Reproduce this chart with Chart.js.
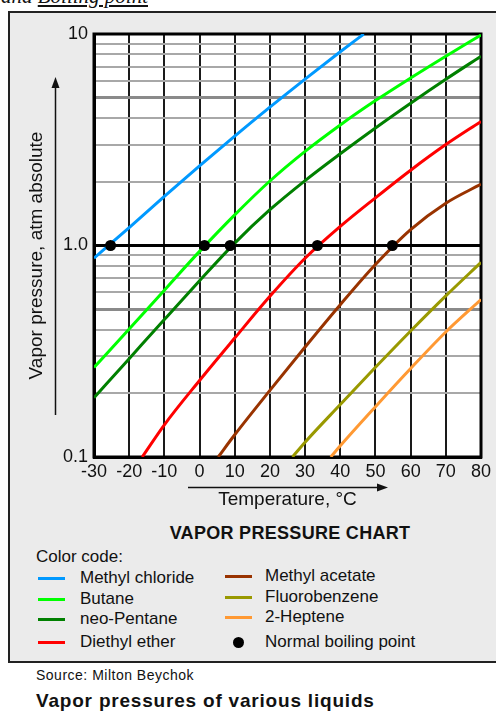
<!DOCTYPE html>
<html>
<head>
<meta charset="utf-8">
<script src="https://cdn.jsdelivr.net/npm/chart.js"></script>
<style>
  html, body { margin: 0; padding: 0; width: 496px; height: 713px; overflow: hidden; background: #fff;
    font-family: Arial, "Liberation Sans", sans-serif; color: #111; }
  #topnote { position: absolute; left: 1px; top: -14px; font: italic 21px/21px "Liberation Serif", "Times New Roman", serif; white-space: nowrap; }
  #panel { position: absolute; left: 8px; top: 11px; width: 500px; height: 652px; background: #ebebeb;
    border: 2px solid #222; box-sizing: border-box; }
  #chartbox { position: absolute; left: 0; top: 0; width: 496px; height: 512px; }
  .t { position: absolute; white-space: nowrap; transform: translateY(-50%); }
  .sw { position: absolute; width: 27px; height: 3px; }
  .dot { position: absolute; width: 11px; height: 11px; border-radius: 50%; background: #000; }
</style>
</head>
<body>
<div id="topnote">and <u>Boiling point</u></div>
<div id="panel"></div>
<div id="chartbox"><canvas id="chart_vp"></canvas></div>
<div class="t" style="left:290px;top:533px;transform:translate(-50%,-50%);font:bold 18px Arial, 'Liberation Sans', sans-serif;letter-spacing:0.3px">VAPOR PRESSURE CHART</div>
<div class="t" style="left:36px;top:557px;font-size:17px">Color code:</div>
<div id="legend"></div>
<div class="t" style="left:36px;top:675px;font-size:14px;letter-spacing:0.5px">Source: Milton Beychok</div>
<div class="t" style="left:36px;top:701px;font:bold 19px Arial, 'Liberation Sans', sans-serif;letter-spacing:0.8px">Vapor pressures of various liquids</div>

<script>
// series names / colours
const seriesNames = ['Methyl chloride', 'Butane', 'neo-Pentane', 'Diethyl ether', 'Methyl acetate', 'Fluorobenzene', '2-Heptene'];
const seriesColors = ['#0099ff', '#00ff00', '#008000', '#ff0000', '#993300', '#999900', '#ff9933'];

// temperatures (°C) and vapor pressures (atm)
const methylChlorideT = [-30, -20, -10, 0, 10, 20, 30, 40, 46.7];
const methylChlorideP = [0.871, 1.216, 1.706, 2.377, 3.289, 4.508, 6.12, 8.24, 10];

const butaneT = [-30, -20, -10, 0, 10, 20, 30, 40, 50, 60, 70, 80];
const butaneP = [0.265, 0.403, 0.615, 0.938, 1.396, 2.018, 2.786, 3.715, 4.842, 6.194, 7.852, 9.886];

const neoPentaneT = [-30, -20, -10, 0, 10, 20, 30, 40, 50, 60, 70, 80];
const neoPentaneP = [0.1905, 0.2917, 0.4467, 0.6808, 1.026, 1.476, 2.028, 2.716, 3.597, 4.71, 6.11, 7.85];

const diethylEtherT = [-16.3, -10, 0, 10, 20, 30, 40, 50, 60, 70, 80];
const diethylEtherP = [0.1, 0.142, 0.23, 0.365, 0.575, 0.87, 1.23, 1.68, 2.27, 3.0, 3.86];

const methylAcetateT = [5.3, 10, 20, 30, 40, 50, 60, 70, 80];
const methylAcetateP = [0.1, 0.1274, 0.2065, 0.3311, 0.5248, 0.8128, 1.189, 1.585, 1.95];

const fluorobenzeneT = [26.4, 30, 40, 50, 60, 70, 80];
const fluorobenzeneP = [0.1, 0.1175, 0.177, 0.2655, 0.3945, 0.578, 0.832];

const heptene2T = [37.3, 40, 50, 60, 70, 80];
const heptene2P = [0.1, 0.113, 0.173, 0.262, 0.39, 0.555];

// normal boiling points (1 atm)
const boilingT = [-25.3, 1.4, 8.7, 33.5, 54.8];
const boilingP = [1, 1, 1, 1, 1];

// axes
const xMin = -30, xMax = 80, xStep = 10;
const yGridValues = [0.1, 0.2, 0.3, 0.4, 0.5, 0.6, 0.7, 0.8, 0.9, 1, 2, 3, 4, 5, 6, 7, 8, 9, 10];
const yLabelValues = [0.1, 1, 10];
const yLabelTexts = ['0.1', '1.0', '10'];
const yTitle = 'Vapor pressure, atm absolute';

const seriesT = [methylChlorideT, butaneT, neoPentaneT, diethylEtherT, methylAcetateT, fluorobenzeneT, heptene2T];
const seriesP = [methylChlorideP, butaneP, neoPentaneP, diethylEtherP, methylAcetateP, fluorobenzeneP, heptene2P];

const near = (a, b) => Math.abs(a - b) < 1e-6 * Math.max(1, b);
const fontFam = 'Arial, "Liberation Sans", sans-serif';

const datasets = seriesNames.map((name, i) => ({
  label: name,
  data: seriesT[i].map((t, k) => ({ x: t, y: seriesP[i][k] })),
  borderColor: seriesColors[i],
  borderWidth: 3,
  pointRadius: 0,
  fill: false,
  cubicInterpolationMode: 'monotone',
  order: 1
}));
datasets.push({
  label: 'Normal boiling point',
  data: boilingT.map((t, k) => ({ x: t, y: boilingP[k] })),
  showLine: false,
  pointRadius: 5.5,
  pointBackgroundColor: '#000',
  pointBorderWidth: 0,
  order: 0
});

const decor = {
  id: 'decor',
  beforeDraw(chart) {
    const { ctx, chartArea: a } = chart;
    ctx.save();
    ctx.fillStyle = '#fff';
    ctx.fillRect(a.left, a.top, a.right - a.left, a.bottom - a.top);
    ctx.restore();
  },
  beforeDatasetsDraw(chart) {
    const { ctx, chartArea: a } = chart;
    ctx.save();
    ctx.strokeStyle = '#000';
    ctx.lineWidth = 3;
    ctx.strokeRect(a.left, a.top, a.right - a.left, a.bottom - a.top);
    ctx.restore();
  },
  afterDraw(chart) {
    const { ctx, chartArea: a } = chart;
    ctx.save();
    ctx.strokeStyle = '#111';
    ctx.fillStyle = '#111';
    ctx.lineWidth = 1.5;
    // y arrow
    const ax = 55.5, ayTop = a.top + 43, ayBot = a.bottom - 42;
    ctx.beginPath(); ctx.moveTo(ax, ayBot); ctx.lineTo(ax, ayTop + 8); ctx.stroke();
    ctx.beginPath(); ctx.moveTo(ax, ayTop); ctx.lineTo(ax - 4, ayTop + 11); ctx.lineTo(ax + 4, ayTop + 11); ctx.closePath(); ctx.fill();
    // x arrow
    const bx1 = a.left + 94, bx2 = a.left + 294, by = 487.5;
    ctx.beginPath(); ctx.moveTo(bx1, by); ctx.lineTo(bx2 - 8, by); ctx.stroke();
    ctx.beginPath(); ctx.moveTo(bx2, by); ctx.lineTo(bx2 - 11, by - 4); ctx.lineTo(bx2 - 11, by + 4); ctx.closePath(); ctx.fill();
    // y title (sits a bit below the middle of the plot in the original)
    ctx.translate(37, (a.top + a.bottom) / 2 + 10);
    ctx.rotate(-Math.PI / 2);
    ctx.font = `19px ${fontFam}`;
    ctx.textAlign = 'center';
    ctx.textBaseline = 'middle';
    ctx.fillText(yTitle, 0, 0);
    ctx.restore();
  }
};

new Chart(document.getElementById('chart_vp').getContext('2d'), {
  type: 'line',
  data: { datasets: datasets },
  options: {
    responsive: true,
    maintainAspectRatio: false,
    animation: false,
    layout: { padding: { top: 34, right: 15, left: 0, bottom: 0 } },
    scales: {
      x: {
        type: 'linear',
        min: xMin,
        max: xMax,
        afterFit: (scale) => { scale.height = 55; },
        ticks: { stepSize: xStep, color: '#111', padding: 4, maxRotation: 0, autoSkip: false,
          font: { family: fontFam, size: 18 } },
        grid: { color: '#1a1a1a', lineWidth: 2, drawTicks: false },
        border: { display: true, color: '#000', width: 3 },
        title: { display: true, text: 'Temperature, °C', color: '#111', padding: { top: 0, bottom: 1 },
          font: { family: fontFam, size: 19 } }
      },
      y: {
        type: 'logarithmic',
        min: 0.1,
        max: 10,
        afterFit: (scale) => { scale.width = 94; },
        afterBuildTicks: (scale) => { scale.ticks = yGridValues.map(v => ({ value: v })); },
        ticks: {
          color: '#111', padding: 6, autoSkip: false,
          font: { family: fontFam, size: 18 },
          callback: (v) => {
            const idx = yLabelValues.findIndex(l => near(v, l));
            return idx >= 0 ? yLabelTexts[idx] : '';
          }
        },
        grid: {
          drawTicks: false,
          color: (c) => {
            const v = c.tick ? c.tick.value : 0;
            if (near(v, 1) || near(v, 0.1) || near(v, 10)) return '#000';
            if (near(v, 0.5) || near(v, 5)) return '#8a8a8a';
            return '#a8a8a8';
          },
          lineWidth: (c) => {
            const v = c.tick ? c.tick.value : 0;
            if (near(v, 1) || near(v, 0.5) || near(v, 5)) return 3;
            return 2;
          }
        },
        border: { display: true, color: '#000', width: 3 },
        title: { display: false }
      }
    },
    plugins: {
      legend: { display: false },
      tooltip: { enabled: false }
    }
  },
  plugins: [decor]
});

// html legend (two columns, same look as the original)
const legendRowsY = [578, 599, 619, 642];
const legendEl = document.getElementById('legend');
seriesNames.forEach((name, i) => {
  const col = i < 4 ? 0 : 1;
  const row = i < 4 ? i : i - 4;
  const y = legendRowsY[row] - (col ? 2 : 0);
  const swX = col ? 225 : 38;
  const txX = col ? 265 : 80;
  legendEl.insertAdjacentHTML('beforeend',
    `<div class="sw" style="left:${swX}px;top:${y - 1}px;background:${seriesColors[i]}"></div>
     <div class="t" style="left:${txX}px;top:${y}px;font-size:17px">${name}</div>`);
});
legendEl.insertAdjacentHTML('beforeend',
  `<div class="dot" style="left:233px;top:${legendRowsY[3] - 5}px"></div>
   <div class="t" style="left:265px;top:${legendRowsY[3]}px;font-size:17px">Normal boiling point</div>`);
</script>
</body>
</html>
